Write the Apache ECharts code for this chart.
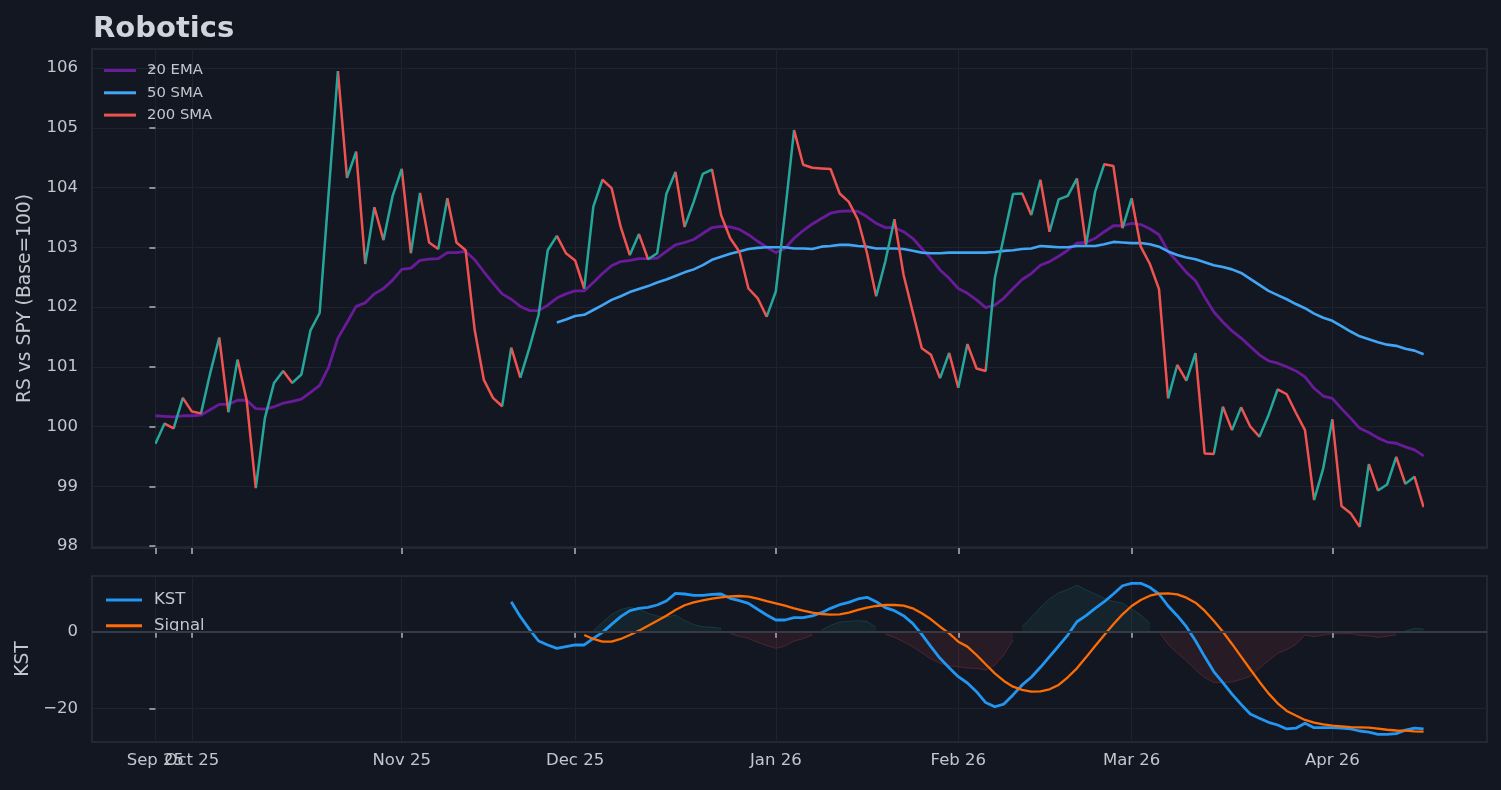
<!DOCTYPE html>
<html>
<head>
<meta charset="utf-8">
<script src="https://cdn.jsdelivr.net/npm/echarts@6/dist/echarts.min.js"></script>
<style>
  html, body { margin: 0; padding: 0; background: #131722; }
  #chart { width: 1501px; height: 790px; }
</style>
</head>
<body>
<div id="chart"></div>
<script>
// x is the trading-day index; month labels sit on the first trading day of each month
const tickIdx = [0, 4, 27, 46, 68, 88, 107, 129];
const tickLabels = ['Sep 25', 'Oct 25', 'Nov 25', 'Dec 25', 'Jan 26', 'Feb 26', 'Mar 26', 'Apr 26'];
const rsTicks = [98, 99, 100, 101, 102, 103, 104, 105, 106];
const kstTicks = [-20, 0];

// RS vs SPY (base = 100)
const rs = [
  99.71, 100.05, 99.97, 100.48, 100.25, 100.22, 100.89, 101.49, 100.24, 101.12,
  100.44, 98.97, 100.14, 100.73, 100.93, 100.73, 100.87, 101.61, 101.90, 103.93,
  105.95, 104.16, 104.60, 102.72, 103.67, 103.12, 103.86, 104.31, 102.90, 103.91,
  103.08, 102.97, 103.82, 103.08, 102.95, 101.61, 100.78, 100.48, 100.34, 101.32,
  100.82, 101.32, 101.87, 102.95, 103.19, 102.90, 102.78, 102.31, 103.68, 104.13,
  103.99, 103.34, 102.87, 103.22, 102.80, 102.90, 103.89, 104.26, 103.34, 103.76,
  104.23, 104.30, 103.54, 103.15, 102.93, 102.31, 102.15, 101.84, 102.26, 103.57,
  104.96, 104.38, 104.33, 104.32, 104.31, 103.90, 103.76, 103.46, 102.90, 102.18,
  102.76, 103.47, 102.54, 101.92, 101.31, 101.20, 100.81, 101.23, 100.65, 101.38,
  100.97, 100.93, 102.48, 103.18, 103.89, 103.90, 103.54, 104.13, 103.26, 103.80,
  103.86, 104.15, 103.04, 103.93, 104.39, 104.36, 103.32, 103.82, 103.01, 102.72,
  102.30, 100.47, 101.03, 100.77, 101.23, 99.55, 99.54, 100.33, 99.94, 100.32,
  100.00, 99.83, 100.19, 100.62, 100.54, 100.23, 99.94, 98.77, 99.30, 100.12,
  98.67, 98.55, 98.32, 99.37, 98.93, 99.03, 99.49, 99.04, 99.16, 98.65
];

const ema20 = [
  100.18, 100.17, 100.16, 100.18, 100.18, 100.19, 100.28, 100.37, 100.37, 100.44,
  100.44, 100.30, 100.29, 100.33, 100.39, 100.42, 100.46, 100.57, 100.69, 101.00,
  101.48, 101.74, 102.01, 102.07, 102.22, 102.31, 102.45, 102.63, 102.65, 102.78,
  102.80, 102.81, 102.91, 102.91, 102.93, 102.79, 102.59, 102.40, 102.22, 102.13,
  102.01, 101.94, 101.94, 102.03, 102.15, 102.22, 102.27, 102.27, 102.41, 102.56,
  102.69, 102.76, 102.78, 102.81, 102.81, 102.82, 102.93, 103.04, 103.08, 103.13,
  103.23, 103.33, 103.35, 103.34, 103.30, 103.21, 103.10, 103.00, 102.91, 102.98,
  103.15, 103.28, 103.39, 103.48, 103.57, 103.60, 103.61, 103.60, 103.51, 103.40,
  103.33, 103.33, 103.26, 103.15, 102.98, 102.81, 102.62, 102.48, 102.31, 102.23,
  102.12, 101.99, 102.03, 102.15, 102.31, 102.46, 102.56, 102.70, 102.76, 102.85,
  102.95, 103.07, 103.08, 103.15, 103.26, 103.36, 103.36, 103.40, 103.38, 103.31,
  103.21, 102.93, 102.76, 102.58, 102.44, 102.17, 101.92, 101.75, 101.60, 101.48,
  101.34, 101.20, 101.10, 101.06, 101.00, 100.93, 100.83, 100.64, 100.51, 100.47,
  100.30, 100.14, 99.97, 99.90, 99.81, 99.74, 99.72, 99.66, 99.61, 99.51
];

// 50 SMA begins at index 44
const sma50Start = 44;
const sma50 = [
  101.74, 101.79, 101.85, 101.87, 101.95, 102.03, 102.12, 102.18, 102.25, 102.30,
  102.35, 102.41, 102.46, 102.52, 102.58, 102.63, 102.70, 102.79, 102.84, 102.89,
  102.93, 102.97, 102.99, 103.00, 103.00, 103.00, 102.98, 102.98, 102.97, 103.01,
  103.02, 103.04, 103.04, 103.02, 103.01, 102.98, 102.98, 102.98, 102.97, 102.94,
  102.91, 102.90, 102.90, 102.91, 102.91, 102.91, 102.91, 102.91, 102.92, 102.94,
  102.95, 102.97, 102.98, 103.02, 103.01, 103.00, 103.00, 103.02, 103.02, 103.02,
  103.05, 103.09, 103.08, 103.07, 103.07, 103.05, 103.01, 102.93, 102.87, 102.83,
  102.80, 102.75, 102.70, 102.67, 102.63, 102.57, 102.47, 102.37, 102.27, 102.20,
  102.13, 102.05, 101.98, 101.89, 101.82, 101.77, 101.68, 101.59, 101.51, 101.46,
  101.41, 101.37, 101.35, 101.30, 101.27, 101.21
];

// KST begins at index 39, its signal at index 47
const kstStart = 39;
const kst = [
  7.83, 3.92, 0.60, -2.43, -3.47, -4.34, -3.90, -3.47, -3.47, -1.74,
  -0.17, 1.92, 3.92, 5.48, 6.10, 6.36, 6.97, 8.00, 10.00, 9.84,
  9.50, 9.50, 9.76, 9.84, 8.71, 8.10, 7.40, 5.85, 4.36, 3.05,
  3.05, 3.66, 3.66, 4.10, 4.97, 6.10, 7.05, 7.66, 8.54, 8.97,
  7.83, 6.27, 5.48, 4.18, 2.18, -0.70, -3.90, -6.96, -9.40, -11.75,
  -13.40, -15.67, -18.50, -19.60, -18.90, -16.50, -13.90, -11.90, -9.30, -6.50,
  -3.73, -0.87, 2.60, 4.18, 6.10, 7.83, 9.84, 12.00, 12.63, 12.63,
  11.60, 9.84, 6.71, 4.18, 1.30, -2.35, -6.50, -10.40, -13.30, -16.30,
  -18.97, -21.50, -22.60, -23.66, -24.36, -25.40, -25.20, -23.90, -25.07, -25.07,
  -25.07, -25.20, -25.40, -25.93, -26.20, -26.80, -26.80, -26.60, -25.70, -25.15,
  -25.40
];

const signalStart = 47;
const signal = [
  -0.87, -1.90, -2.60, -2.60, -1.90, -0.87, 0.27, 1.57, 2.87, 4.18,
  5.67, 6.90, 7.66, 8.19, 8.62, 8.97, 9.23, 9.32, 9.14, 8.62,
  8.00, 7.40, 6.79, 6.10, 5.48, 4.97, 4.62, 4.44, 4.53, 4.97,
  5.67, 6.27, 6.71, 6.97, 6.97, 6.79, 6.10, 4.80, 3.23, 1.30,
  -0.43, -2.60, -3.90, -6.08, -8.50, -10.87, -12.87, -14.36, -15.20, -15.67,
  -15.60, -15.05, -13.90, -11.90, -9.56, -6.70, -3.73, -0.87, 1.92, 4.53,
  6.71, 8.28, 9.40, 9.93, 10.00, 9.76, 8.88, 7.57, 5.48, 2.87,
  0.00, -3.20, -6.50, -9.80, -13.05, -16.10, -18.70, -20.70, -21.90, -23.05,
  -23.75, -24.20, -24.50, -24.70, -24.90, -24.97, -25.07, -25.30, -25.60, -25.80,
  -25.85, -26.00, -26.10
];

const UP = '#26a69a';
const DOWN = '#ef5350';
const TXT = '#c3c6ce';
const FONT = 'DejaVu Sans';

const withStart = (arr, start) => arr.map((v, k) => [start + k, v]);

// RS segments: teal when rising, red when falling
const pieces = [];
for (let i = 0; i < rs.length - 1; i++) {
  const p = { gte: i, color: rs[i + 1] >= rs[i] ? UP : DOWN };
  if (i < rs.length - 2) p.lt = i + 1; else p.lte = i + 1;
  pieces.push(p);
}

// KST minus signal, split into positive and negative parts for the fill
const diffPos = [];
const diffNeg = [];
signal.forEach((s, k) => {
  const i = signalStart + k;
  const d = kst[i - kstStart] - s;
  diffPos.push([i, d > 0 ? d : null]);
  diffNeg.push([i, d < 0 ? d : null]);
});

const xBase = {
  type: 'value',
  min: -6.95,
  max: 145.95,
  axisLine: { show: false },
  axisTick: { show: true, customValues: tickIdx, length: 6, lineStyle: { color: '#b2b5be', width: 1.5 } },
  splitLine: { show: true, lineStyle: { color: '#1f2330', width: 1 } }
};

const labelBase = {
  show: true,
  hideOverlap: false,
  showMinLabel: true,
  showMaxLabel: true,
  margin: 10,
  color: TXT,
  fontSize: 16.5,
  fontFamily: FONT,
  formatter: v => tickLabels[tickIdx.indexOf(Math.round(v))] || ''
};

// "Sep 25" and "Oct 25" overlap in the original; the second one sits on its own axis so both are drawn
const mainLabelIdx = tickIdx.filter((v, k) => k !== 1);
const extraLabelIdx = [tickIdx[1]];

const yBase = {
  type: 'value',
  axisLine: { show: false },
  axisTick: { show: true, length: 6, lineStyle: { color: '#b2b5be', width: 1.5 } },
  splitLine: { show: true, lineStyle: { color: '#1f2330', width: 1 } },
  nameLocation: 'middle',
  nameRotate: 90,
  nameTextStyle: { color: TXT, fontSize: 18.7, fontFamily: FONT }
};

const chart = echarts.init(document.getElementById('chart'));
chart.setOption({
  backgroundColor: '#131722',
  animation: false,
  title: {
    text: 'Robotics',
    left: 88,
    top: 10,
    textStyle: { color: '#d1d4dc', fontSize: 29, fontWeight: 'bold', fontFamily: FONT }
  },
  legend: [
    {
      data: ['20 EMA', '50 SMA', '200 SMA'],
      orient: 'vertical',
      left: 99,
      top: 57.5,
      icon: 'rect',
      itemWidth: 32,
      itemHeight: 3,
      itemGap: 6.3,
      textStyle: { color: TXT, fontSize: 14.8, fontFamily: FONT, lineHeight: 16, padding: [0, 0, 0, 6] }
    },
    {
      data: ['KST', 'Signal'],
      orient: 'vertical',
      left: 101,
      top: 586,
      icon: 'rect',
      itemWidth: 36,
      itemHeight: 3,
      itemGap: 7.7,
      textStyle: { color: TXT, fontSize: 16.5, fontFamily: FONT, lineHeight: 18, padding: [0, 0, 0, 7] }
    }
  ],
  visualMap: {
    show: false,
    type: 'piecewise',
    seriesIndex: 0,
    dimension: 0,
    pieces: pieces
  },
  grid: [
    { left: 92, width: 1395, top: 49, height: 499, show: true, borderColor: '#2a2e39', borderWidth: 1.5, backgroundColor: '#131722' },
    { left: 92, width: 1395, top: 576, height: 166, show: true, borderColor: '#2a2e39', borderWidth: 1.5, backgroundColor: '#131722' }
  ],
  xAxis: [
    Object.assign({}, xBase, { gridIndex: 0, axisLabel: { show: false } }),
    Object.assign({}, xBase, {
      gridIndex: 1,
      axisLabel: Object.assign({}, labelBase, { customValues: mainLabelIdx })
    }),
    {
      type: 'value',
      gridIndex: 1,
      position: 'bottom',
      min: -6.95,
      max: 145.95,
      axisLine: { show: false },
      axisTick: { show: false },
      splitLine: { show: false },
      axisLabel: Object.assign({}, labelBase, { customValues: extraLabelIdx })
    }
  ],
  yAxis: [
    Object.assign({}, yBase, {
      gridIndex: 0,
      min: 97.967,
      max: 106.318,
      name: 'RS vs SPY (Base=100)',
      nameGap: 57,
      axisTick: Object.assign({}, yBase.axisTick, { customValues: rsTicks }),
      axisLabel: { customValues: rsTicks, margin: 14, color: TXT, fontSize: 16.5, fontFamily: FONT }
    }),
    Object.assign({}, yBase, {
      gridIndex: 1,
      min: -28.8,
      max: 14.54,
      name: 'KST',
      nameGap: 55,
      axisTick: Object.assign({}, yBase.axisTick, { customValues: kstTicks }),
      axisLabel: {
        customValues: kstTicks, margin: 14, color: TXT, fontSize: 16.5, fontFamily: FONT,
        formatter: v => String(v).replace('-', '\u2212')
      }
    })
  ],
  series: [
    {
      name: 'RS',
      type: 'line',
      xAxisIndex: 0, yAxisIndex: 0,
      data: rs.map((v, i) => [i, v]),
      symbol: 'none',
      lineStyle: { width: 2.5 },
      z: 4
    },
    {
      name: '20 EMA',
      type: 'line',
      xAxisIndex: 0, yAxisIndex: 0,
      data: ema20.map((v, i) => [i, v]),
      symbol: 'none',
      color: '#6a1b9a',
      lineStyle: { width: 2.8, color: '#6a1b9a' },
      z: 3
    },
    {
      name: '50 SMA',
      type: 'line',
      xAxisIndex: 0, yAxisIndex: 0,
      data: withStart(sma50, sma50Start),
      symbol: 'none',
      color: '#42a5f5',
      lineStyle: { width: 2.6, color: '#42a5f5' },
      z: 3
    },
    {
      name: '200 SMA',
      type: 'line',
      xAxisIndex: 0, yAxisIndex: 0,
      data: [],
      symbol: 'none',
      color: '#ef5350',
      lineStyle: { width: 2.5, color: '#ef5350' }
    },
    {
      name: 'diffPos',
      type: 'line',
      xAxisIndex: 1, yAxisIndex: 1,
      data: diffPos,
      symbol: 'none',
      silent: true,
      lineStyle: { width: 1, color: 'rgba(38,166,154,0.22)' },
      areaStyle: { origin: 0, color: 'rgba(38,166,154,0.13)' },
      markLine: {
        silent: true,
        symbol: 'none',
        label: { show: false },
        lineStyle: { color: '#363a45', width: 1.8, type: 'solid' },
        data: [{ yAxis: 0 }]
      },
      z: 2
    },
    {
      name: 'diffNeg',
      type: 'line',
      xAxisIndex: 1, yAxisIndex: 1,
      data: diffNeg,
      symbol: 'none',
      silent: true,
      lineStyle: { width: 1, color: 'rgba(239,83,80,0.22)' },
      areaStyle: { origin: 0, color: 'rgba(239,83,80,0.13)' },
      z: 2
    },
    {
      name: 'KST',
      type: 'line',
      xAxisIndex: 1, yAxisIndex: 1,
      data: withStart(kst, kstStart),
      symbol: 'none',
      color: '#2196f3',
      lineStyle: { width: 2.8, color: '#2196f3' },
      z: 4
    },
    {
      name: 'Signal',
      type: 'line',
      xAxisIndex: 1, yAxisIndex: 1,
      data: withStart(signal, signalStart),
      symbol: 'none',
      color: '#ff6d00',
      lineStyle: { width: 2.3, color: '#ff6d00' },
      z: 4
    }
  ]
});
</script>
</body>
</html>
